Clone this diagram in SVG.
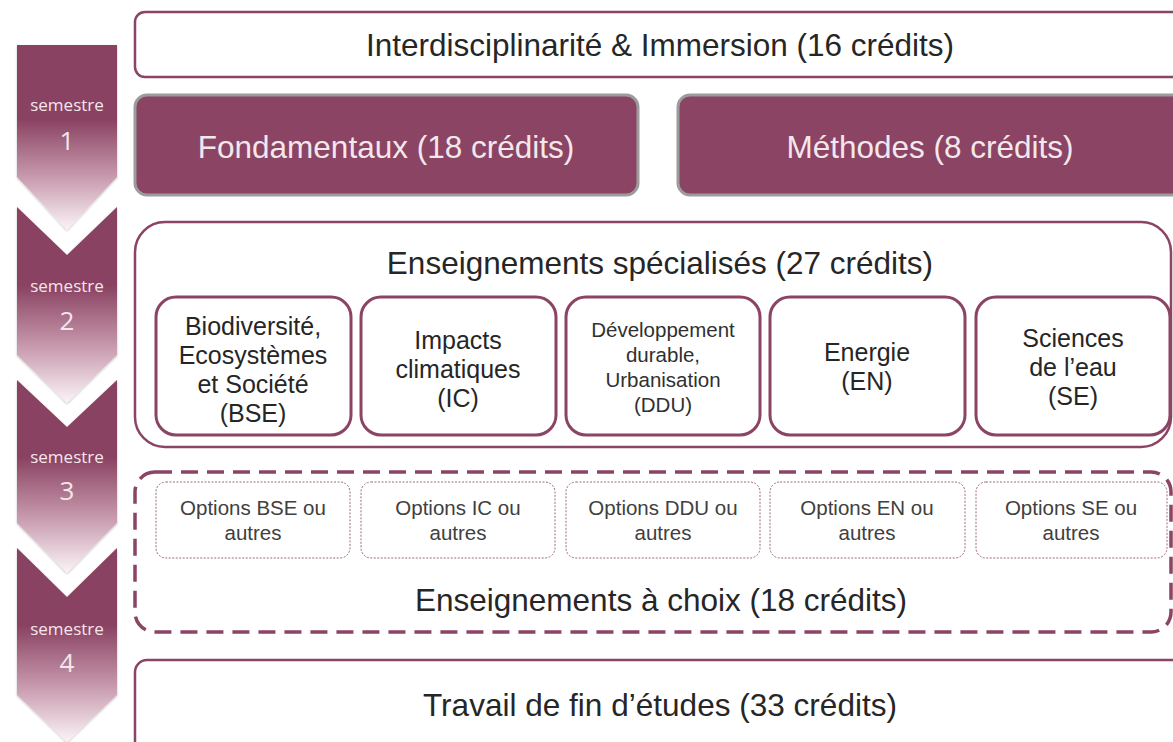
<svg xmlns="http://www.w3.org/2000/svg" width="1173" height="742" viewBox="0 0 1173 742">
<style>
.frame{fill:#fff;stroke:#8B4463;stroke-width:2.5}
.solid{fill:#8B4463;stroke:#9c9c9c;stroke-width:3}
.inner{fill:#fff;stroke:#8B4463;stroke-width:3}
.dash{fill:none;stroke:#8B4463;stroke-width:3.5;stroke-dasharray:17 9}
.opt{fill:#fff;stroke:#9a6a80;stroke-width:1;stroke-dasharray:2 1.5}
.big{font-family:"Liberation Sans",Arial,sans-serif;font-size:31.5px;fill:#262626;text-anchor:middle}
.bigw{font-family:"Liberation Sans",Arial,sans-serif;font-size:31.5px;fill:#f2e8ec;text-anchor:middle}
.mid{font-family:"Liberation Sans",Arial,sans-serif;font-size:25px;fill:#262626;text-anchor:middle}
.sm{font-family:"Liberation Sans",Arial,sans-serif;font-size:20.5px;fill:#303030;text-anchor:middle}
.op{font-family:"Liberation Sans",Arial,sans-serif;font-size:20.5px;fill:#404040;text-anchor:middle}
.sem{font-family:"Open Sans","DejaVu Sans",sans-serif;font-size:17px;fill:#f3e6ec;text-anchor:middle}
.num{font-family:"Open Sans","DejaVu Sans",sans-serif;font-size:26px;fill:#f3e6ec;text-anchor:middle}
.chev{fill:url(#cg);filter:url(#sh)}
</style>
<defs>
<linearGradient id="cg" x1="0" y1="0" x2="0" y2="1">
<stop offset="0" stop-color="#8A4262"/>
<stop offset="0.4" stop-color="#8A4262"/>
<stop offset="0.7" stop-color="#c596aa"/>
<stop offset="1" stop-color="#fbf4f7"/>
</linearGradient>
<filter id="sh" x="-10%" y="-10%" width="120%" height="120%">
<feDropShadow dx="0" dy="1" stdDeviation="1.2" flood-color="#000" flood-opacity="0.25"/>
</filter>
</defs>
<rect width="1173" height="742" fill="#fff"/>

<g id="semestre1">
<path class="chev" d="M17,45 L117,45 L117,177 L67,230 L17,177 Z"/>
<text class="sem" x="67" y="111">semestre</text>
<text class="num" x="67" y="150">1</text>
</g>
<g id="semestre2">
<path class="chev" d="M17,207 L67,255 L117,207 L117,355 L67,403 L17,355 Z"/>
<text class="sem" x="67" y="292">semestre</text>
<text class="num" x="67" y="330">2</text>
</g>
<g id="semestre3">
<path class="chev" d="M17,380 L67,427 L117,380 L117,523 L67,573 L17,523 Z"/>
<text class="sem" x="67" y="463">semestre</text>
<text class="num" x="67" y="500">3</text>
</g>
<g id="semestre4">
<path class="chev" d="M17,548 L67,597 L117,548 L117,695 L67,742 L17,695 Z"/>
<text class="sem" x="67" y="635">semestre</text>
<text class="num" x="67" y="672">4</text>
</g>

<g id="interdisciplinarite">
<rect class="frame" x="135" y="12" width="1060" height="65" rx="10"/>
<text class="big" x="660" y="56">Interdisciplinarité &amp; Immersion (16 crédits)</text>
</g>
<g id="fondamentaux">
<rect class="solid" x="135" y="95" width="503" height="100" rx="12"/>
<text class="bigw" x="386" y="158">Fondamentaux (18 crédits)</text>
</g>
<g id="methodes">
<rect class="solid" x="678" y="95" width="520" height="100" rx="12"/>
<text class="bigw" x="930" y="158">Méthodes (8 crédits)</text>
</g>

<g id="specialises">
<rect class="frame" x="135" y="222" width="1036" height="225" rx="30"/>
<text class="big" x="660" y="274">Enseignements spécialisés (27 crédits)</text>
</g>
<g id="bse">
<rect class="inner" x="156" y="297" width="195" height="138" rx="20"/>
<text class="mid" x="253" y="335">Biodiversité,</text>
<text class="mid" x="253" y="364">Ecosystèmes</text>
<text class="mid" x="253" y="393">et Société</text>
<text class="mid" x="253" y="422">(BSE)</text>
</g>
<g id="ic">
<rect class="inner" x="361" y="297" width="195" height="138" rx="20"/>
<text class="mid" x="458" y="349">Impacts</text>
<text class="mid" x="458" y="378">climatiques</text>
<text class="mid" x="458" y="407">(IC)</text>
</g>
<g id="ddu">
<rect class="inner" x="566" y="297" width="194" height="138" rx="20"/>
<text class="sm" x="663" y="337">Développement</text>
<text class="sm" x="663" y="362">durable,</text>
<text class="sm" x="663" y="387">Urbanisation</text>
<text class="sm" x="663" y="412">(DDU)</text>
</g>
<g id="en">
<rect class="inner" x="770" y="297" width="195" height="138" rx="20"/>
<text class="mid" x="867" y="361">Energie</text>
<text class="mid" x="867" y="390">(EN)</text>
</g>
<g id="se">
<rect class="inner" x="976" y="297" width="194" height="138" rx="20"/>
<text class="mid" x="1073" y="347">Sciences</text>
<text class="mid" x="1073" y="376">de l’eau</text>
<text class="mid" x="1073" y="405">(SE)</text>
</g>

<g id="choix">
<rect class="dash" x="135" y="472" width="1036" height="160" rx="20"/>
<text class="big" x="661" y="611">Enseignements à choix (18 crédits)</text>
</g>
<g id="opt-bse">
<rect class="opt" x="156" y="482" width="194" height="76" rx="10"/>
<text class="op" x="253" y="515">Options BSE ou</text>
<text class="op" x="253" y="540">autres</text>
</g>
<g id="opt-ic">
<rect class="opt" x="361" y="482" width="194" height="76" rx="10"/>
<text class="op" x="458" y="515">Options IC ou</text>
<text class="op" x="458" y="540">autres</text>
</g>
<g id="opt-ddu">
<rect class="opt" x="566" y="482" width="194" height="76" rx="10"/>
<text class="op" x="663" y="515">Options DDU ou</text>
<text class="op" x="663" y="540">autres</text>
</g>
<g id="opt-en">
<rect class="opt" x="770" y="482" width="195" height="76" rx="10"/>
<text class="op" x="867" y="515">Options EN ou</text>
<text class="op" x="867" y="540">autres</text>
</g>
<g id="opt-se">
<rect class="opt" x="976" y="482" width="191" height="76" rx="10"/>
<text class="op" x="1071" y="515">Options SE ou</text>
<text class="op" x="1071" y="540">autres</text>
</g>

<g id="travail">
<rect class="frame" x="135" y="660" width="1060" height="100" rx="12"/>
<text class="big" x="660" y="716" textLength="474" lengthAdjust="spacingAndGlyphs">Travail  de fin d’études (33 crédits)</text>
</g>
<g id="connectors"></g>
</svg>
